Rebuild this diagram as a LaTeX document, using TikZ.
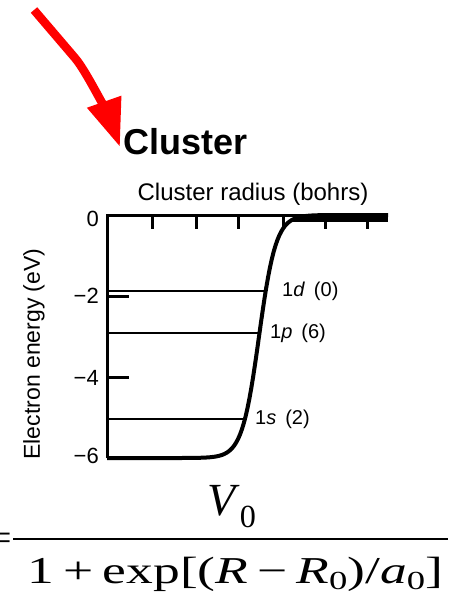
\documentclass[tikz,border=0pt]{standalone}
\usepackage{fontspec}
\usepackage{graphicx}
\usepackage{tikz}
\usetikzlibrary{positioning,arrows.meta}
\setmainfont{Liberation Sans}
\newfontfamily\formfont{Liberation Serif}
\definecolor{arrowred}{RGB}{255,0,0}
\newcommand{\lowzero}{\raisebox{-6pt}{\fontsize{26}{28}\selectfont 0}}

\begin{document}
\begin{tikzpicture}[
        x=1pt, y=-1pt,
        axisline/.style={line width=3pt, black},
        potential/.style={line width=4pt, black, line join=round},
        levelline/.style={line width=2.8pt, black},
        ticktext/.style={anchor=east, inner sep=0pt, font=\fontsize{22}{24}\selectfont},
        leveltext/.style={anchor=west, inner sep=0pt, font=\fontsize{20}{22}\selectfont},
        arrow/.style={-{Triangle[length=48pt, width=34pt]}, line width=8.5pt, arrowred}
    ]
        \useasboundingbox (0,0) rectangle (448,596);

        % Titel und Pfeil
        \node[anchor=base west, inner sep=0pt, font=\fontsize{36}{40}\selectfont\bfseries] (cluster) at (123,155) {Cluster};
        \coordinate (arrowstart) at (34,10);
        \coordinate (arrowbend) at (75,58);
        \coordinate (arrowtip) at ([shift={(-3,-8)}]cluster.base west);
        \draw[arrow] (arrowstart) -- (arrowbend) .. controls +(13,15) and +(-7,-20) .. (arrowtip);

        % Achsen
        \node[inner sep=0pt, font=\fontsize{24}{26}\selectfont] (radiuslabel) at (253,194) {Cluster radius (bohrs)};
        \node[rotate=90, inner sep=0pt, font=\fontsize{23}{25}\selectfont] (energylabel) at (34,354) {Electron energy (eV)};
        \draw[axisline] (107,458) -- (107,215) -- (388,215);
        \draw[axisline] (152,215) -- ++(0,14) (196,215) -- ++(0,14) (238,215) -- ++(0,14)
                        (283,215) -- ++(0,14) (325,215) -- ++(0,14) (367,215) -- ++(0,14);
        \draw[axisline] (107,296) -- ++(22,0) (107,377) -- ++(22,0);
        \node[ticktext] (tickzero) at (99,219) {0};
        \node[ticktext] (ticktwo) at (99,296) {−2};
        \node[ticktext] (tickfour) at (99,378) {−4};
        \node[ticktext] (ticksix) at (99,456) {−6};

        % Potentialtopf
        \draw[potential] plot[domain=107:330, samples=120] (\x, {215+243/(1+exp((\x-259)/8.5))}) -- (388,215);
        \draw[line width=8.5pt] (293,218) -- (388,218);

        % Niveaus
        \draw[levelline] (107,291) -- (266,291);
        \draw[levelline] (107,333) -- (260,333);
        \draw[levelline] (107,419) -- (245,419);
        \node[leveltext] (leveld) at (282,291) {1\textit{d}\hspace{0.45em}(0)};
        \node[leveltext] (levelp) at (270,333) {1\textit{p}\hspace{0.45em}(6)};
        \node[leveltext] (levels) at (255,419) {1\textit{s}\hspace{0.45em}(2)};

        % Formel
        \node[anchor=base east, inner sep=0pt, font=\formfont\fontsize{38}{40}\selectfont] (equals) at (12,550) {=};
        \draw[line width=2pt] (13,539) -- (448,539);
        \node[anchor=base, inner sep=0pt, font=\formfont\fontsize{46}{48}\selectfont] (numer) at (232,515) {\textit{V}\textsubscript{0}};
        \node[anchor=base, inner sep=0pt] (denom) at (235.5,583)
            {\resizebox{415pt}{\height}{\formfont\fontsize{38}{40}\selectfont 1\,+\,exp[(\textit{R}\,−\,\textit{R}\lowzero)/\textit{a}\lowzero]}};
    \end{tikzpicture}
\end{document}
